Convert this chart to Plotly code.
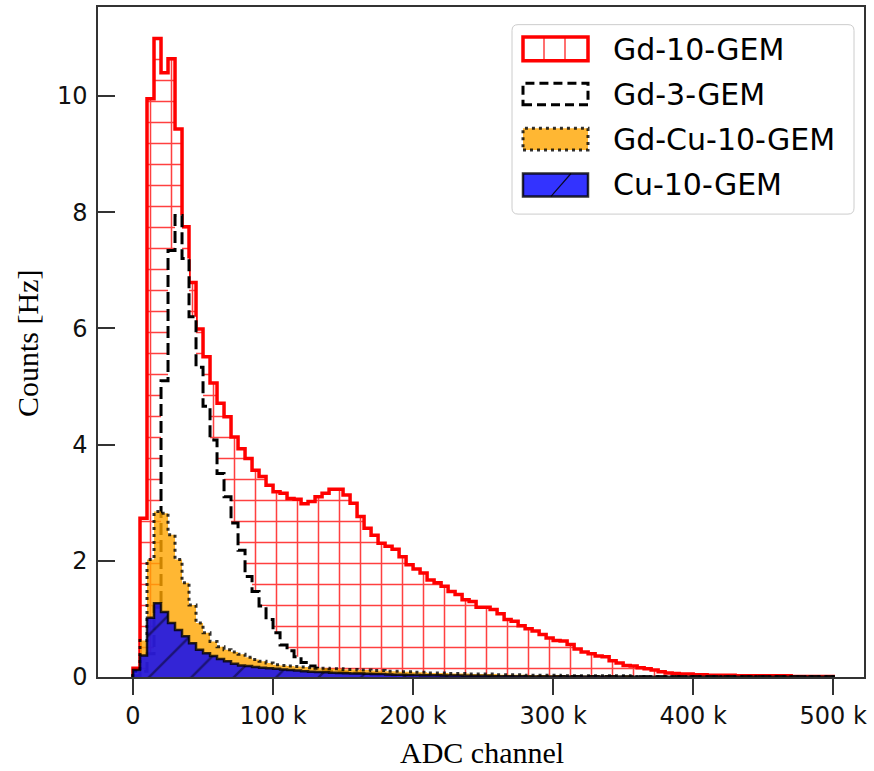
import numpy as np
import plotly.graph_objects as go

# ---------------- data (counts per 5 k ADC bin, 0 .. 500 k) ----------------
bin_edges_k = np.linspace(0, 500, 101)  # in k ADC channels

gd10_counts = [
    0.15, 2.73, 9.95, 10.99, 10.40, 10.64, 9.43, 7.75, 6.79, 5.99,
    5.51, 5.06, 4.71, 4.48, 4.13, 3.93, 3.76, 3.56, 3.45, 3.30,
    3.19, 3.16, 3.07, 3.06, 2.98, 3.02, 3.10, 3.16, 3.23, 3.23,
    3.13, 2.99, 2.76, 2.56, 2.44, 2.30, 2.25, 2.20, 2.07, 1.93,
    1.86, 1.79, 1.67, 1.62, 1.56, 1.47, 1.42, 1.33, 1.30, 1.20,
    1.20, 1.16, 1.09, 0.99, 0.96, 0.88, 0.83, 0.79, 0.73, 0.67,
    0.63, 0.62, 0.56, 0.48, 0.43, 0.40, 0.36, 0.35, 0.28, 0.24,
    0.20, 0.19, 0.16, 0.14, 0.12, 0.09, 0.07, 0.06, 0.05, 0.05,
    0.04, 0.04, 0.03, 0.03, 0.03, 0.03, 0.02, 0.02, 0.02, 0.02,
    0.02, 0.02, 0.02, 0.02, 0.01, 0.01, 0.01, 0.01, 0.01, 0.01,
]

gd3_counts = [
    0.02, 0.10, 0.40, 1.20, 5.10, 7.34, 7.94, 7.20, 6.20, 5.33,
    4.66, 4.08, 3.50, 3.10, 2.65, 2.18, 1.73, 1.47, 1.22, 0.99,
    0.76, 0.55, 0.45, 0.35, 0.25, 0.19, 0.15, 0.12, 0.10, 0.09,
    0.08, 0.07, 0.06, 0.05, 0.05, 0.04, 0.04, 0.03, 0.03, 0.03,
    0.03, 0.02, 0.02, 0.02, 0.02, 0.02, 0.01, 0.01, 0.01, 0.01,
    0.01, 0.01, 0.01, 0.01, 0.01, 0.01, 0.01, 0.01, 0.01, 0.01,
    0.01, 0.01, 0.01, 0.01, 0.01, 0.01, 0.01, 0.01, 0.01, 0.01,
    0.005, 0.005, 0.005, 0.005, 0.005, 0.005, 0.005, 0.005, 0.005, 0.005,
    0.005, 0.005, 0.005, 0.005, 0.005, 0.005, 0.005, 0.005, 0.005, 0.005,
    0.005, 0.005, 0.005, 0.005, 0.005, 0.005, 0.005, 0.005, 0.005, 0.005,
]

gdcu10_counts = [
    0.10, 0.63, 2.02, 2.85, 2.82, 2.45, 2.02, 1.62, 1.24, 0.93,
    0.76, 0.61, 0.52, 0.47, 0.43, 0.39, 0.34, 0.30, 0.27, 0.24,
    0.21, 0.20, 0.19, 0.18, 0.17, 0.16, 0.15, 0.15, 0.14, 0.14,
    0.13, 0.13, 0.12, 0.12, 0.11, 0.11, 0.10, 0.10, 0.09, 0.09,
    0.08, 0.08, 0.07, 0.07, 0.07, 0.06, 0.06, 0.06, 0.05, 0.05,
    0.05, 0.05, 0.04, 0.04, 0.04, 0.04, 0.03, 0.03, 0.03, 0.03,
    0.03, 0.02, 0.02, 0.02, 0.02, 0.02, 0.02, 0.02, 0.02, 0.02,
    0.02, 0.01, 0.01, 0.01, 0.01, 0.01, 0.01, 0.01, 0.01, 0.01,
    0.01, 0.01, 0.01, 0.01, 0.01, 0.01, 0.01, 0.01, 0.01, 0.01,
    0.01, 0.01, 0.01, 0.01, 0.01, 0.01, 0.01, 0.01, 0.01, 0.01,
]

cu10_counts = [
    0.12, 0.37, 1.02, 1.27, 1.12, 0.93, 0.81, 0.70, 0.58, 0.47,
    0.41, 0.36, 0.31, 0.27, 0.23, 0.20, 0.19, 0.17, 0.16, 0.15,
    0.14, 0.13, 0.12, 0.11, 0.10, 0.09, 0.085, 0.08, 0.075, 0.07,
    0.065, 0.06, 0.06, 0.055, 0.05, 0.05, 0.045, 0.04, 0.04, 0.035,
    0.035, 0.03, 0.03, 0.03, 0.025, 0.025, 0.025, 0.02, 0.02, 0.02,
    0.02, 0.015, 0.015, 0.015, 0.015, 0.015, 0.01, 0.01, 0.01, 0.01,
    0.01, 0.01, 0.01, 0.01, 0.01, 0.01, 0.01, 0.01, 0.01, 0.01,
    0.005, 0.005, 0.005, 0.005, 0.005, 0.005, 0.005, 0.005, 0.005, 0.005,
    0.005, 0.005, 0.005, 0.005, 0.005, 0.005, 0.005, 0.005, 0.005, 0.005,
    0.005, 0.005, 0.005, 0.005, 0.005, 0.005, 0.005, 0.005, 0.005, 0.005,
]

series_names = ["Gd-10-GEM", "Gd-3-GEM", "Gd-Cu-10-GEM", "Cu-10-GEM"]
x_tick_values_k = [0, 100, 200, 300, 400, 500]
x_tick_labels = ["0", "100 k", "200 k", "300 k", "400 k", "500 k"]
y_tick_values = [0, 2, 4, 6, 8, 10]


def step_xy(counts):
    edges = bin_edges_k * 1000.0
    v = np.asarray(counts, dtype=float)
    xs = np.concatenate([[edges[0]], edges[:-1], [edges[-1], edges[-1]]])
    ys = np.concatenate([[0.0], v, [v[-1], 0.0]])
    return xs, ys


fig = go.Figure()

# Gd-10-GEM : red outline, red '+' hatch
x, y = step_xy(gd10_counts)
fig.add_trace(go.Scatter(
    x=x, y=y, mode="lines", line=dict(color="#ff0000", width=3.5, shape="hv"),
    fill="tozeroy", fillcolor="rgba(255,255,255,0)",
    fillpattern=dict(shape="+", fgcolor="rgba(255,0,0,0.75)", bgcolor="rgba(255,255,255,0)",
                     size=21, solidity=0.14, fillmode="replace"),
    name=series_names[0], showlegend=False, hoverinfo="skip"))

# Gd-3-GEM : white fill, black dashed outline
x, y = step_xy(gd3_counts)
fig.add_trace(go.Scatter(
    x=x, y=y, mode="lines", line=dict(color="#000000", width=3, shape="hv", dash="12px,5px"),
    fill="tozeroy", fillcolor="#ffffff",
    name=series_names[1], showlegend=False, hoverinfo="skip"))

# Gd-Cu-10-GEM : orange fill, dotted outline
x, y = step_xy(gdcu10_counts)
fig.add_trace(go.Scatter(
    x=x, y=y, mode="lines", line=dict(color="rgba(0,0,0,0.8)", width=3, shape="hv", dash="3px,4px"),
    fill="tozeroy", fillcolor="rgba(255,165,0,0.8)",
    name=series_names[2], showlegend=False, hoverinfo="skip"))

# Cu-10-GEM : blue fill, '/' hatch, dark outline
x, y = step_xy(cu10_counts)
fig.add_trace(go.Scatter(
    x=x, y=y, mode="lines", line=dict(color="rgba(0,0,0,0.8)", width=2.5, shape="hv"),
    fill="tozeroy", fillcolor="rgba(0,0,255,0.8)",
    fillpattern=dict(shape="/", fgcolor="rgba(0,0,0,0.9)", size=30, solidity=0.08, fillmode="overlay"),
    name=series_names[3], showlegend=False, hoverinfo="skip"))

# ---------------- layout ----------------
L, R, T, B = 98, 864, 5, 677
W, H = 874, 771


def px(xp):
    return (xp - L) / (R - L)


def py(yp):
    return (B - yp) / (B - T)


axis_col = "#333333"
tick_font = dict(family="DejaVu Sans", size=24, color="#111111")

fig.update_layout(
    width=W, height=H,
    margin=dict(l=L, r=W - R, t=T, b=H - B, pad=0),
    paper_bgcolor="white", plot_bgcolor="white",
    showlegend=False,
    xaxis=dict(
        range=[-25000, 522000], showgrid=False, zeroline=False,
        showline=True, mirror=True, linecolor=axis_col, linewidth=1.5,
        ticks="outside", ticklen=16, tickwidth=1.5, tickcolor=axis_col,
        tickvals=[v * 1000 for v in x_tick_values_k], ticktext=x_tick_labels,
        tickfont=tick_font,
    ),
    yaxis=dict(
        range=[0, 11.53], showgrid=False, zeroline=False,
        showline=True, mirror=True, linecolor=axis_col, linewidth=1.5,
        ticks="inside", ticklen=17, tickwidth=1.5, tickcolor=axis_col,
        tickvals=y_tick_values, tickfont=tick_font, ticklabelstandoff=4,
    ),
)

# axis titles (serif)
title_font = dict(family="Liberation Serif", size=30, color="#000000")
fig.add_annotation(text="ADC channel", xref="paper", yref="paper",
                   x=px(482), y=py(753), xanchor="center", yanchor="middle",
                   showarrow=False, font=title_font)
fig.add_annotation(text="Counts [Hz]", xref="paper", yref="paper",
                   x=px(28), y=py(343), xanchor="center", yanchor="middle",
                   textangle=-90, showarrow=False, font=title_font)

# ---------------- custom legend ----------------
shapes = []
bx0, bx1, by0, by1, rad = 512, 854, 22.7, 212.7, 6
rx, ry = rad / (R - L), rad / (B - T)
X0, X1, Y0, Y1 = px(bx0), px(bx1), py(by1), py(by0)
path = (f"M{X0+rx},{Y0} L{X1-rx},{Y0} Q{X1},{Y0} {X1},{Y0+ry} L{X1},{Y1-ry} "
        f"Q{X1},{Y1} {X1-rx},{Y1} L{X0+rx},{Y1} Q{X0},{Y1} {X0},{Y1-ry} "
        f"L{X0},{Y0+ry} Q{X0},{Y0} {X0+rx},{Y0} Z")
shapes.append(dict(type="path", path=path, xref="paper", yref="paper",
                   fillcolor="rgba(255,255,255,0.85)", line=dict(color="#cccccc", width=1)))

sx0, sx1 = 523, 588
rows = [(35, 59), (81.5, 103), (126.5, 148.5), (172, 195)]
text_y = [46.7, 91.7, 136.7, 181.7]

# red hatched patch
r0, r1 = rows[0]
for gx in (544, 565):
    shapes.append(dict(type="line", xref="paper", yref="paper", x0=px(gx), x1=px(gx),
                       y0=py(r1), y1=py(r0), line=dict(color="rgba(255,0,0,0.75)", width=1.5)))
shapes.append(dict(type="rect", xref="paper", yref="paper", x0=px(sx0), x1=px(sx1),
                   y0=py(r1), y1=py(r0), line=dict(color="#ff0000", width=3.5)))
# black dashed patch
r0, r1 = rows[1]
shapes.append(dict(type="rect", xref="paper", yref="paper", x0=px(sx0), x1=px(sx1),
                   y0=py(r1), y1=py(r0), line=dict(color="#000000", width=3, dash="9px,5px")))
# orange patch
r0, r1 = rows[2]
shapes.append(dict(type="rect", xref="paper", yref="paper", x0=px(sx0), x1=px(sx1),
                   y0=py(r1), y1=py(r0), fillcolor="rgba(255,165,0,0.8)",
                   line=dict(color="rgba(0,0,0,0.8)", width=3, dash="3px,4px")))
# blue patch
r0, r1 = rows[3]
shapes.append(dict(type="rect", xref="paper", yref="paper", x0=px(sx0), x1=px(sx1),
                   y0=py(r1), y1=py(r0), fillcolor="rgba(0,0,255,0.8)",
                   line=dict(color="rgba(0,0,0,0.8)", width=2.5)))
shapes.append(dict(type="line", xref="paper", yref="paper", x0=px(551), x1=px(571),
                   y0=py(r1), y1=py(r0), line=dict(color="rgba(0,0,0,0.85)", width=1.2)))

fig.update_layout(shapes=shapes)

legend_font = dict(family="DejaVu Sans", size=30, color="#000000")
for name, ty in zip(series_names, text_y):
    fig.add_annotation(text=name, xref="paper", yref="paper", x=px(611), y=py(ty + 1),
                       xanchor="left", yanchor="middle", showarrow=False, font=legend_font)

fig.write_html("out.html")
